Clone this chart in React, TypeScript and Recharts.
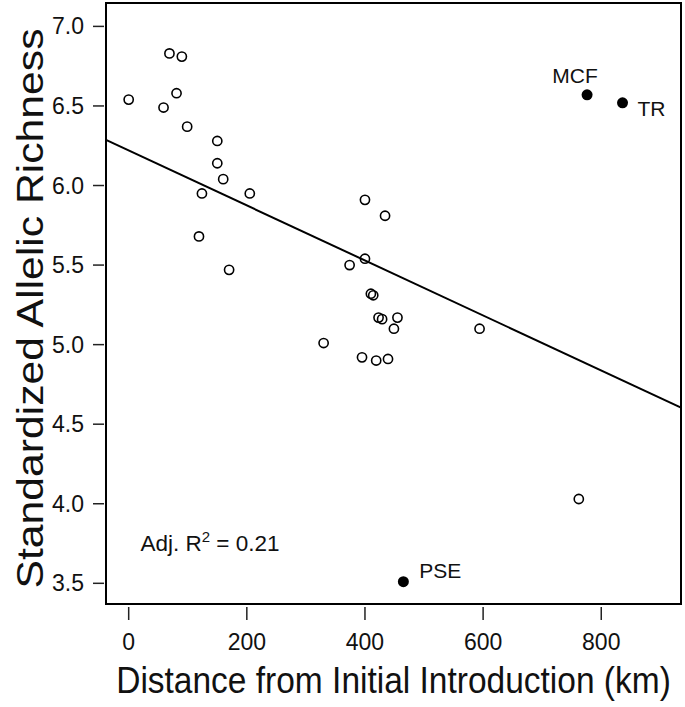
import { ReferenceArea, ReferenceDot, ReferenceLine, Scatter, ScatterChart, XAxis, YAxis } from "recharts";

// open circles: populations along the invasion front
const distanceKm = [0, 59, 69, 81, 90, 99, 119, 124, 150, 150, 160, 170, 205, 330, 374, 395, 400, 400, 410, 414, 419, 423, 429, 434, 439, 449, 455, 594, 762];
const allelicRichness = [6.54, 6.49, 6.83, 6.58, 6.81, 6.37, 5.68, 5.95, 6.28, 6.14, 6.04, 5.47, 5.95, 5.01, 5.5, 4.92, 5.91, 5.54, 5.32, 5.31, 4.9, 5.17, 5.16, 5.81, 4.91, 5.1, 5.17, 5.1, 4.03];

// filled, labelled populations
const namedSites = ["MCF", "TR", "PSE"];
const namedDistanceKm = [776, 836, 465];
const namedRichness = [6.57, 6.52, 3.51];

// regression line read at the plot edges
const fitDistanceKm = [-38.4, 935];
const fitRichness = [6.287, 4.604];

const xTicks = [0, 200, 400, 600, 800];
const yTicks = [3.5, 4.0, 4.5, 5.0, 5.5, 6.0, 6.5, 7.0];
const xDomain = [-38.4, 935];
const yDomain = [3.37, 7.147];

const FONT = "'Liberation Sans', Arial, Helvetica, sans-serif";

const points = distanceKm.map((x, i) => ({ x, y: allelicRichness[i] }));
const named = namedSites.map((name, i) => ({ name, x: namedDistanceKm[i], y: namedRichness[i] }));

// where each site label sits relative to its dot
const labelPos: Record<string, { dx: number; dy: number; anchor: "start" | "middle" }> = {
  MCF: { dx: -12, dy: -12, anchor: "middle" },
  TR: { dx: 15, dy: 13, anchor: "start" },
  PSE: { dx: 16, dy: -4, anchor: "start" },
};

function XTick({ x, y, payload }: any) {
  return (
    <g>
      <line x1={x} x2={x} y1={y + 3} y2={y + 16} stroke="#222" strokeWidth={1.5} />
      <text x={x} y={y + 46} textAnchor="middle" fontSize={23} fontFamily={FONT} fill="#111">
        {payload.value}
      </text>
    </g>
  );
}

function YTick({ x, y, payload }: any) {
  return (
    <g>
      <line x1={x - 13} x2={x - 2} y1={y} y2={y} stroke="#222" strokeWidth={1.5} />
      <text x={x - 22} y={y + 8} textAnchor="end" fontSize={23} fontFamily={FONT} fill="#111">
        {Number(payload.value).toFixed(1)}
      </text>
    </g>
  );
}

function OpenDot({ cx, cy }: any) {
  return <circle cx={cx} cy={cy} r={4.6} fill="none" stroke="#000" strokeWidth={1.6} />;
}

function NamedDot({ cx, cy, payload }: any) {
  const p = labelPos[payload.name];
  return (
    <g>
      <circle cx={cx} cy={cy} r={5.5} fill="#000" />
      <text x={cx + p.dx} y={cy + p.dy} textAnchor={p.anchor} fontSize={21} fontFamily={FONT} fill="#111">
        {payload.name}
      </text>
    </g>
  );
}

function R2Note({ cx, cy }: any) {
  return (
    <text x={cx} y={cy} fontSize={22.5} fontFamily={FONT} fill="#111">
      Adj. R
      <tspan fontSize={15} dy={-9}>2</tspan>
      <tspan dy={9}> = 0.21</tspan>
    </text>
  );
}

export default function App() {
  return (
    <div style={{ position: "absolute", left: 0, top: 0, background: "#fff" }}>
      <ScatterChart width={685} height={707} margin={{ top: 3, right: 4, bottom: 0, left: 0 }}>
        <XAxis
          type="number"
          dataKey="x"
          domain={xDomain}
          ticks={xTicks}
          allowDataOverflow
          height={103}
          axisLine={false}
          tickLine={false}
          tickSize={0}
          tickMargin={0}
          tick={<XTick />}
          label={{
            content: ({ viewBox }: any) => (
              // the reference title is a little taller than it is wide
              <text
                transform={`translate(${viewBox.x + viewBox.width / 2}, ${viewBox.y + 89}) scale(1, 1.1)`}
                x={0}
                y={0}
                textAnchor="middle"
                fontSize={33.5}
                fontFamily={FONT}
                fill="#111"
              >
                Distance from Initial Introduction (km)
              </text>
            ),
          }}
        />
        <YAxis
          type="number"
          dataKey="y"
          domain={yDomain}
          ticks={yTicks}
          allowDataOverflow
          width={106}
          axisLine={false}
          tickLine={false}
          tickSize={0}
          tickMargin={0}
          tick={<YTick />}
          label={{
            content: ({ viewBox }: any) => {
              const cx = viewBox.x + 43;
              const cy = viewBox.y + viewBox.height / 2 + 5;
              return (
                <text
                  x={cx}
                  y={cy}
                  transform={`rotate(-90, ${cx}, ${cy})`}
                  textAnchor="middle"
                  fontSize={37}
                  textLength={560}
                  lengthAdjust="spacingAndGlyphs"
                  fontFamily={FONT}
                  fill="#111"
                >
                  Standardized Allelic Richness
                </text>
              );
            },
          }}
        />
        <ReferenceArea
          x1={xDomain[0]}
          x2={xDomain[1]}
          y1={yDomain[0]}
          y2={yDomain[1]}
          fill="none"
          stroke="#000"
          strokeWidth={2}
          ifOverflow="visible"
        />
        <ReferenceLine
          segment={[
            { x: fitDistanceKm[0], y: fitRichness[0] },
            { x: fitDistanceKm[1], y: fitRichness[1] },
          ]}
          stroke="#000"
          strokeWidth={2}
          ifOverflow="visible"
        />
        <Scatter data={points} shape={<OpenDot />} isAnimationActive={false} />
        <Scatter data={named} shape={<NamedDot />} isAnimationActive={false} />
        <ReferenceDot x={20} y={3.7} r={0} shape={<R2Note />} ifOverflow="visible" />
      </ScatterChart>
    </div>
  );
}
